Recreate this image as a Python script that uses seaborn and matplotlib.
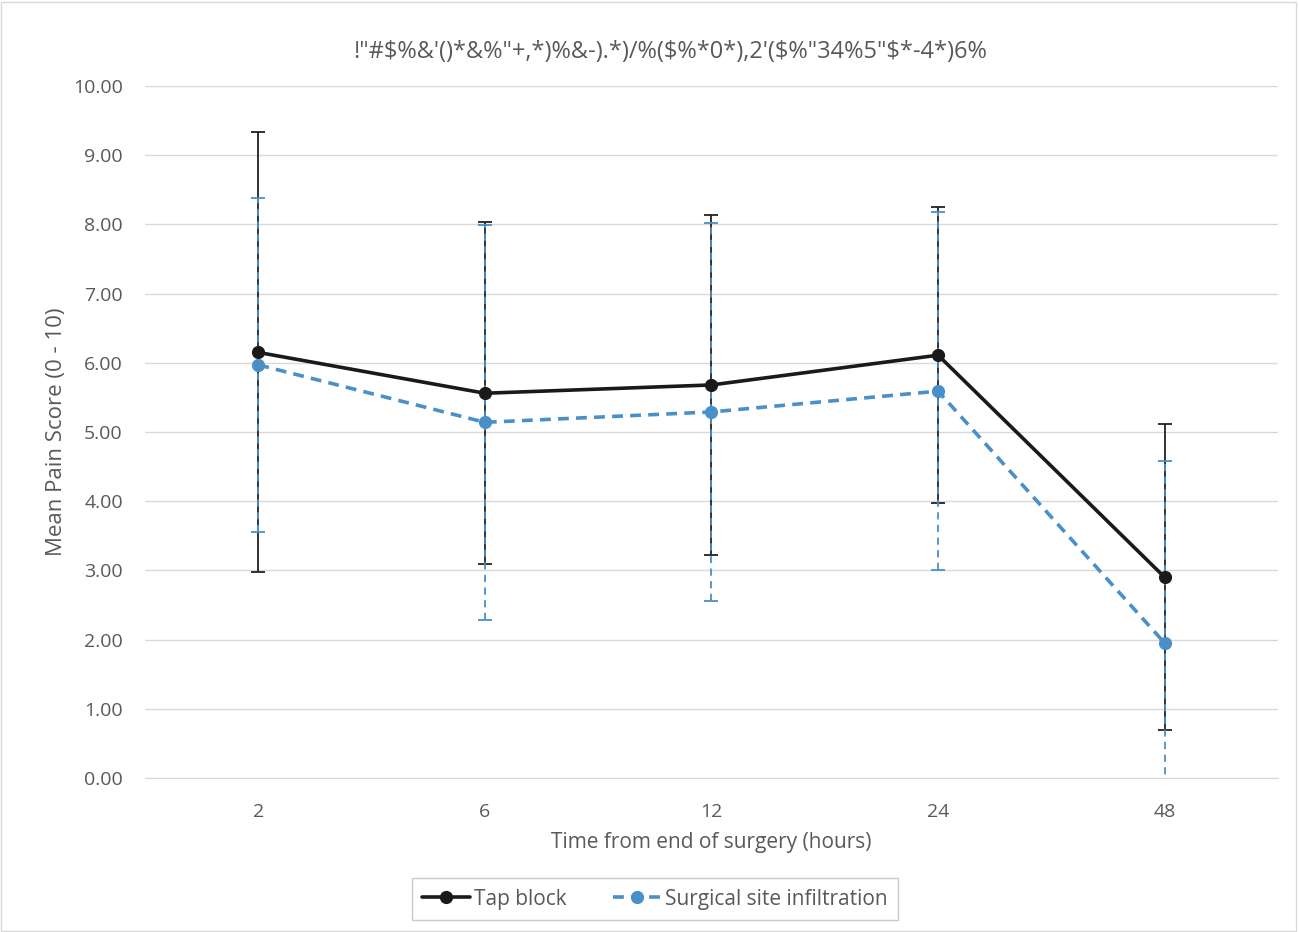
import numpy as np
import pandas as pd
import matplotlib
matplotlib.use('Agg')
import matplotlib.pyplot as plt
import seaborn as sns

# data
times = ['2', '6', '12', '24', '48']
tap_mean = [6.15, 5.56, 5.68, 6.11, 2.90]
tap_sd = [3.18, 2.47, 2.46, 2.14, 2.21]
ssi_mean = [5.97, 5.14, 5.29, 5.59, 1.95]
ssi_sd = [2.41, 2.85, 2.73, 2.59, 2.63]

title = '!"#$%&\'()*&%"+,*)%&-).*)/%($%*0*),2\'($%"34%5"$*-4*)6%'

sns.set_style('white')
plt.rcParams['font.family'] = ['Open Sans', 'DejaVu Sans']
grey_txt = '#595959'
blue = '#4a90c8'

pos = np.arange(len(times))
df = pd.DataFrame({
    'pos': np.concatenate([pos, pos]),
    'score': tap_mean + ssi_mean,
    'group': ['Tap block'] * len(times) + ['Surgical site infiltration'] * len(times),
})

fig = plt.figure(figsize=(12.99, 9.32), dpi=100)
ax = fig.add_axes([145 / 1299, 1 - 778 / 932, (1278 - 145) / 1299, (778 - 86) / 932])

# error bars first (tap under, ssi dashed on top)
eb1 = ax.errorbar(pos, tap_mean, yerr=tap_sd, fmt='none', ecolor='#222222',
                  elinewidth=1.3, capsize=5, capthick=1.3, zorder=2)
eb2 = ax.errorbar(pos, ssi_mean, yerr=ssi_sd, fmt='none', ecolor=blue,
                  elinewidth=1.3, capsize=5, capthick=1.3, zorder=3)
eb2[2][0].set_linestyle((0, (4, 3)))

sns.lineplot(data=df, x='pos', y='score', hue='group', style='group',
             palette={'Tap block': '#1a1a1a', 'Surgical site infiltration': blue},
             dashes={'Tap block': '', 'Surgical site infiltration': (3, 2)},
             markers={'Tap block': 'o', 'Surgical site infiltration': 'o'},
             markersize=9.5, markeredgewidth=0, linewidth=2.6, ax=ax, zorder=4)

ax.set_xlim(-0.5, len(times) - 0.5)
ax.set_ylim(0, 10)
ax.set_xticks(pos)
ax.set_xticklabels(times)
ax.set_yticks(np.arange(0, 11, 1))
ax.set_yticklabels([f'{v:.2f}' for v in np.arange(0, 11, 1)])
ax.tick_params(axis='both', labelsize=14, colors=grey_txt, length=0)
ax.tick_params(axis='x', pad=18)
ax.tick_params(axis='y', pad=16)
ax.yaxis.grid(True, color='#d9d9d9', linewidth=1)
ax.set_axisbelow(True)
for s in ['top', 'right', 'left']:
    ax.spines[s].set_visible(False)
ax.spines['bottom'].set_color('#d9d9d9')
ax.set_xlabel('Time from end of surgery (hours)', fontsize=15, color=grey_txt, labelpad=8)
ax.set_ylabel('Mean Pain Score (0 - 10)', fontsize=16, color=grey_txt, labelpad=4)

fig.text(670 / 1299, 1 - 52 / 932, title, ha='center', va='center', fontsize=17,
         color=grey_txt, parse_math=False)

ax.get_legend().remove()
h, l = ax.get_legend_handles_labels()
leg = fig.legend(h, l, loc='center', bbox_to_anchor=(655 / 1299, 1 - 899 / 932), ncol=2,
                 fontsize=15, frameon=True, fancybox=False, handlelength=2.3,
                 handletextpad=0.2, columnspacing=2.2, borderpad=0.5)
leg.get_frame().set_edgecolor('#bfbfbf')
for t in leg.get_texts():
    t.set_color(grey_txt)

fig.patches.append(plt.Rectangle((0.001, 0.001), 0.997, 0.997, transform=fig.transFigure,
                                 fill=False, edgecolor='#d9d9d9', linewidth=1))

fig.savefig('out.png', dpi=100)
